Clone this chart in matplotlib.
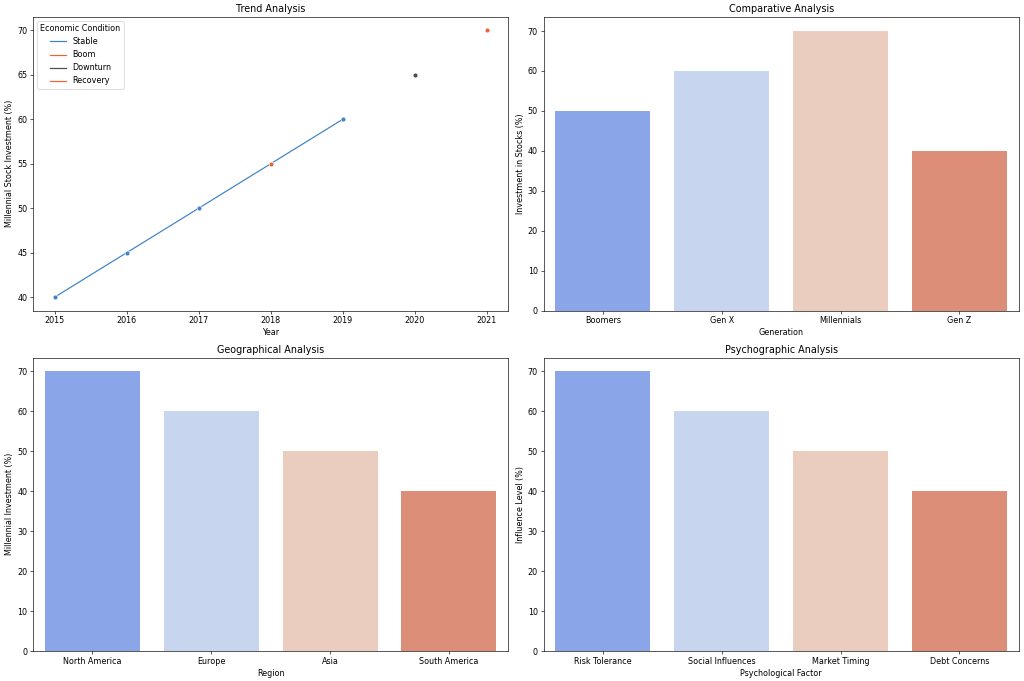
import numpy as np
import pandas as pd
import matplotlib
matplotlib.use('Agg')
import matplotlib.pyplot as plt
import seaborn as sns

years = [2015, 2016, 2017, 2018, 2019, 2020, 2021]
stock_invest = [40, 45, 50, 55, 60, 65, 70]
conditions = ['Stable', 'Stable', 'Stable', 'Boom', 'Stable', 'Downturn', 'Recovery']
cond_colors = {'Stable': '#3f83c8', 'Boom': '#e6643c', 'Downturn': '#4d4d4d', 'Recovery': '#f06430'}

generations = ['Boomers', 'Gen X', 'Millennials', 'Gen Z']
gen_invest = [50, 60, 70, 40]

regions = ['North America', 'Europe', 'Asia', 'South America']
region_invest = [70, 60, 50, 40]

factors = ['Risk Tolerance', 'Social Influences', 'Market Timing', 'Debt Concerns']
factor_levels = [70, 60, 50, 40]

trend = pd.DataFrame({'Year': years, 'Millennial Stock Investment (%)': stock_invest,
                      'Economic Condition': conditions})

DPI = 58
fig, axes = plt.subplots(2, 2, figsize=(1024 / DPI, 681 / DPI), dpi=DPI)
fig.subplots_adjust(left=0.0322, right=0.995, top=0.975, bottom=0.044, wspace=0.074, hspace=0.16)

ax = axes[0, 0]
sns.lineplot(data=trend, x='Year', y='Millennial Stock Investment (%)', hue='Economic Condition',
             palette=cond_colors, marker='o', ax=ax)
ax.set_title('Trend Analysis')
# legend shows plain lines only
handles, labels = ax.get_legend_handles_labels()
for h in handles:
    h.set_marker('')
ax.legend(handles, labels, title='Economic Condition', loc='upper left')

def bar(ax, cats, vals, xlabel, ylabel, title):
    df = pd.DataFrame({xlabel: cats, ylabel: vals})
    sns.barplot(data=df, x=xlabel, y=ylabel, hue=xlabel, palette='coolwarm', legend=False, ax=ax)
    ax.set_title(title)

bar(axes[0, 1], generations, gen_invest, 'Generation', 'Investment in Stocks (%)', 'Comparative Analysis')
bar(axes[1, 0], regions, region_invest, 'Region', 'Millennial Investment (%)', 'Geographical Analysis')
bar(axes[1, 1], factors, factor_levels, 'Psychological Factor', 'Influence Level (%)', 'Psychographic Analysis')

plt.savefig('out.png', dpi=DPI)
